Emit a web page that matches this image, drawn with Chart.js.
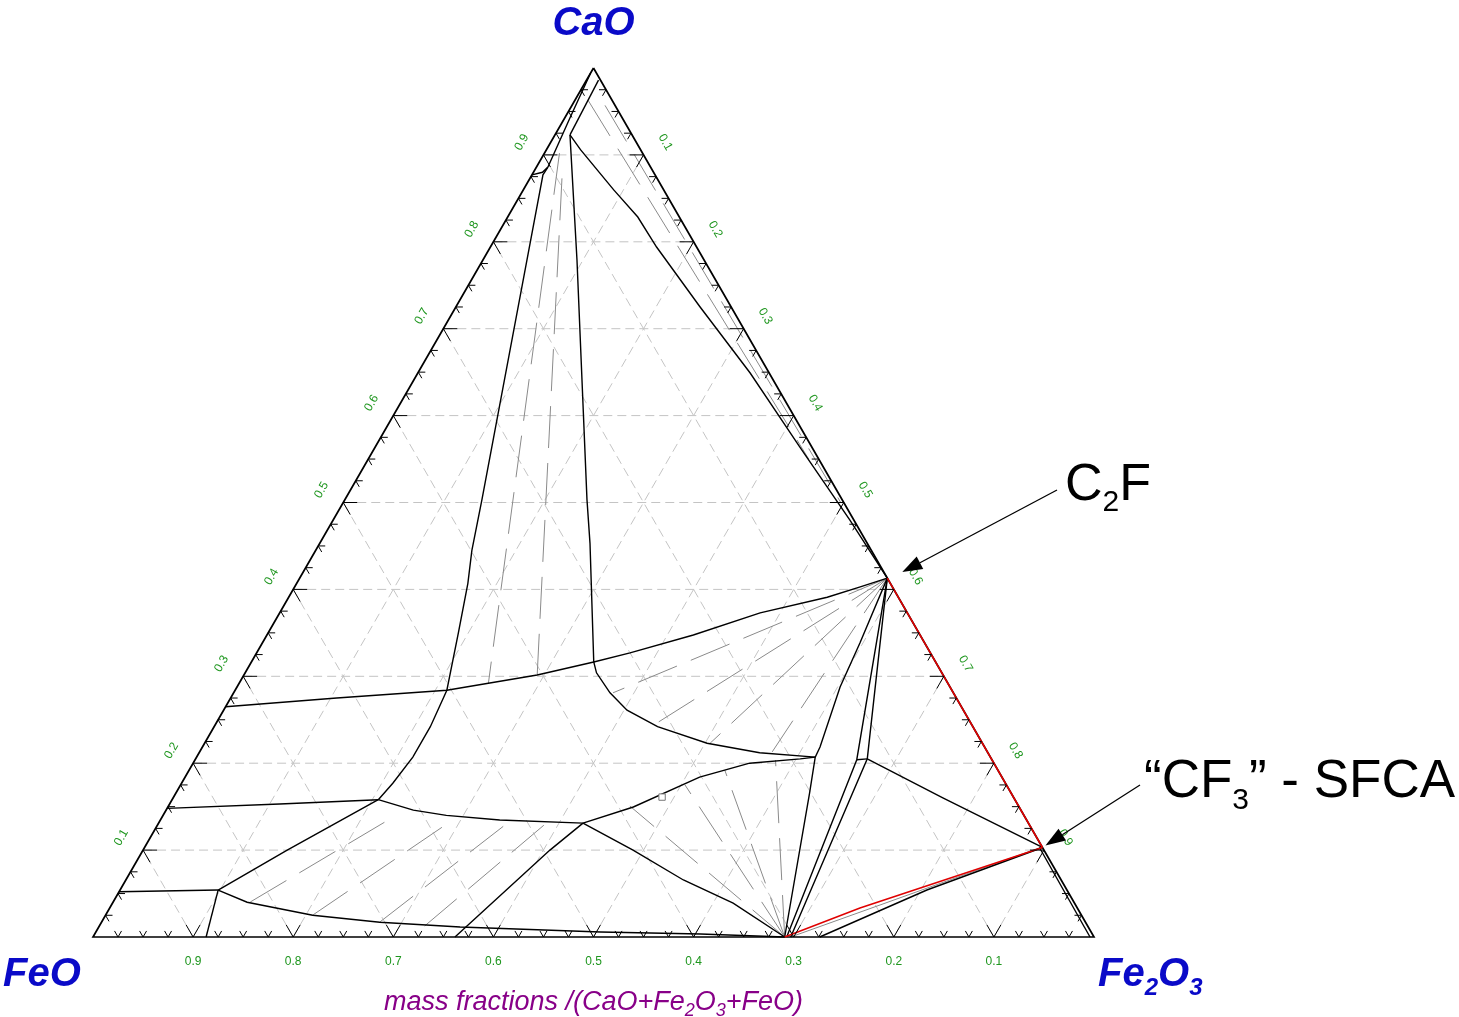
<!DOCTYPE html>
<html><head><meta charset="utf-8">
<script src="https://cdn.jsdelivr.net/npm/chart.js@4/dist/chart.umd.min.js"></script>
<style>html,body{margin:0;padding:0;background:#fff;}#wrap{width:1459px;height:1017px;position:relative;}</style>
</head><body><div id="wrap"><canvas id="c"></canvas></div>
<script>
// All points are compositions [CaO, Fe2O3] in mass fractions (FeO = 1 - CaO - Fe2O3)
const C2F = [0.413, 0.587];
const CF3 = [0.103, 0.897];
const MAG = [0, 0.691];

const gridValues = [0.1,0.2,0.3,0.4,0.5,0.6,0.7,0.8,0.9];
const tickStep = 0.025;
const leftLabels = ['0.1','0.2','0.3','0.4','0.5','0.6','0.7','0.8','0.9'];   // CaO
const rightLabels = ['0.1','0.2','0.3','0.4','0.5','0.6','0.7','0.8','0.9'];  // Fe2O3
const bottomLabels = ['0.9','0.8','0.7','0.6','0.5','0.4','0.3','0.2','0.1']; // FeO

// phase boundaries
const lineBtop = [[0.986,0.012],[0.923,0.015]];
const lineB = [[0.923,0.015],[0.779,0.094],[0.503,0.242],[0.453,0.270],[0.3165,0.342],[0.304,0.351],[0.281,0.376],[0.261,0.403],[0.242,0.443],[0.223,0.502],[0.212,0.560],[0.207,0.618]];
const lineUpperRight = [[0.923,0.015],[0.906,0.034],[0.860,0.090],[0.8285,0.130],[0.794,0.166],[0.725,0.244],[0.649,0.332],[0.564,0.424],[0.480,0.516],[0.413,0.587]];
const lineD = [[0.265,0.0],[0.275,0.106],[0.284,0.2115],[0.3015,0.293],[0.3165,0.342],[0.327,0.373],[0.3475,0.426],[0.373,0.480],[0.391,0.538],[0.403,0.565],[0.413,0.587]];
const lineE = [[0.886,0.0115],[0.877,0.011],[0.779,0.044],[0.503,0.137],[0.445,0.156],[0.407,0.171],[0.350,0.190],[0.284,0.2115],[0.242,0.216],[0.207,0.216],[0.177,0.211],[0.158,0.206]];
const lineHook = [[0.877,0.0],[0.880,0.009],[0.886,0.0115]];
const lineEdgeHug = [[0.886,0.0115],[0.944,0.005],[0.994,0.0]];
const lineC = [[0.131,0.424],[0.1496,0.465],[0.184,0.514],[0.200,0.556],[0.205,0.604],[0.207,0.618]];
const lineN = [[0,0.691],[0.1657,0.633],[0.207,0.618],[0.2186,0.617],[0.2877,0.6025],[0.3383,0.597],[0.413,0.587]];
const lineN2 = [[0.413,0.587],[0.204,0.661],[0,0.693]];
const lineN3 = [[0.413,0.587],[0.205,0.671],[0,0.697]];
const lineJoin = [[0.204,0.661],[0.205,0.671]];
const lineToCF3a = [[0.205,0.671],[0.160,0.769],[0.103,0.897]];
const lineToCF3b = [[0,0.726],[0.0541,0.806],[0.103,0.897]];
const lineGrayBase = [[0,0.697],[0.103,0.895]];
const lineInnerEdge = [[0.103,0.894],[0,0.996]];
const lineRedBase = [[0,0.691],[0.0334,0.7495],[0.103,0.897]];
const lineRedEdge = [[0.413,0.587],[0.103,0.897]];
const lineF = [[0.148,0],[0.153,0.110],[0.158,0.206]];
const lineG = [[0.158,0.206],[0.146,0.247],[0.140,0.283],[0.1346,0.339],[0.131,0.424]];
const lineH = [[0.158,0.206],[0.129,0.175],[0.100,0.144],[0.054,0.098]];
const lineI = [[0.052,0],[0.054,0.098]];
const lineJ = [[0.054,0.098],[0,0.113]];
const lineK = [[0.054,0.098],[0.040,0.134],[0.025,0.207],[0.017,0.278],[0.0115,0.361],[0.0058,0.504],[0.0035,0.605],[0,0.691]];
const lineL = [[0.131,0.424],[0.100,0.4065],[0.0656,0.391],[0,0.3616]];
const lineM = [[0.131,0.424],[0.100,0.4895],[0.0656,0.557],[0.039,0.620],[0,0.691]];

// tie lines
const tiesTop = [[[0.902,0.015],[0.292,0.249]],[[0.873,0.032],[0.3015,0.293]]];
const tiesCaOSide = [[[0.963,0.013],[0.55,0.440]],[[0.957,0.033],[0.50,0.497]]];
const tiesC2F = [[C2F,[0.281,0.379]],[C2F,[0.246,0.440]],[C2F,[0.223,0.505]],[C2F,[0.213,0.572]]];
const tiesMag = [[MAG,[0.1507,0.461]],[MAG,[0.1749,0.504]],[MAG,[0.1922,0.535]],[MAG,[0.2037,0.580]]];
const tiesLow = [[[0.0403,0.137],[0.1381,0.231]],[[0.0253,0.207],[0.1346,0.292]],[[0.0173,0.278],[0.1335,0.350]],[[0.0127,0.325],[0.1323,0.388]]];
const markers = [[0.161,0.488]];

const toXY = p => ({x: p[1] + p[0]/2, y: p[0]});
function ds(pts, color, width, dash, order){
  return {data: pts.map(toXY), showLine:true, borderColor:color, borderWidth:width, borderDash:dash||[],
    pointRadius:0, pointHoverRadius:0, fill:false, tension:0, clip:false, order:order};
}
const datasets = [];
gridValues.forEach(v=>{
  datasets.push(ds([[v,0],[v,1-v]],'#c4c4c4',1,[9,5],100));
  datasets.push(ds([[0,v],[1-v,v]],'#c4c4c4',1,[9,5],100));
  datasets.push(ds([[0,1-v],[1-v,0]],'#c4c4c4',1,[9,5],100));
});
[tiesTop,tiesCaOSide,tiesC2F,tiesMag,tiesLow].forEach(g=>g.forEach(t=>datasets.push(ds(t,'#8a8a8a',1,[42,15],50))));
datasets.push(ds(lineGrayBase,'#8a8a8a',1,[],40));
[lineBtop,lineB,lineUpperRight,lineD,lineE,lineHook,lineEdgeHug,lineC,lineN,lineN2,lineN3,lineJoin,lineToCF3a,lineToCF3b,lineInnerEdge,lineF,lineG,lineH,lineI,lineJ,lineK,lineL,lineM]
  .forEach(l=>datasets.push(ds(l,'#000',1.4,[],10)));
datasets.push(ds([[1,0],[0,0],[0,1],[1,0]],'#000',1.7,[],6));
datasets.push(ds(lineRedBase,'#e00000',1.5,[],5));
datasets.push(ds(lineRedEdge,'#e00000',1.6,[],4));
datasets.push({data: markers.map(toXY), showLine:false, pointStyle:'rect', pointRadius:4.5, borderColor:'#777', backgroundColor:'#fff', borderWidth:1, clip:false, order:3});

const FONT = '"Liberation Sans", Arial, sans-serif';
function rich(ctx, parts, x, y, align, size, subSize, style, color){
  ctx.fillStyle = color; ctx.textBaseline='alphabetic'; ctx.textAlign='left';
  let w=0;
  parts.forEach(p=>{ctx.font = style+' '+(p.s?subSize:size)+'px '+FONT; p.w=ctx.measureText(p.t).width; w+=p.w;});
  let cx = align==='center'? x-w/2 : x;
  parts.forEach(p=>{ctx.font = style+' '+(p.s?subSize:size)+'px '+FONT; ctx.fillText(p.t,cx,y+(p.s?Math.round(size*0.22):0)); cx+=p.w;});
}
function arrow(ctx,x1,y1,x2,y2){
  ctx.strokeStyle='#000'; ctx.fillStyle='#000'; ctx.lineWidth=1.3;
  const a=Math.atan2(y2-y1,x2-x1), L=20, W=7;
  const bx=x2-L*Math.cos(a), by=y2-L*Math.sin(a);
  ctx.beginPath(); ctx.moveTo(x1,y1); ctx.lineTo(bx,by); ctx.stroke();
  ctx.beginPath(); ctx.moveTo(x2,y2);
  ctx.lineTo(bx+W*Math.sin(a),by-W*Math.cos(a)); ctx.lineTo(bx-W*Math.sin(a),by+W*Math.cos(a)); ctx.closePath(); ctx.fill();
}
const deco = {
  id:'deco',
  afterDatasetsDraw(chart){
    const {ctx, scales:{x,y}} = chart;
    const P=(c,f)=>[x.getPixelForValue(f+c/2), y.getPixelForValue(c)];
    ctx.save();
    ctx.strokeStyle='#000'; ctx.lineWidth=1;
    const seg=(a,b,c,d)=>{ctx.beginPath();ctx.moveTo(a,b);ctx.lineTo(c,d);ctx.stroke();};
    const n=Math.round(1/tickStep);
    for(let i=1;i<n;i++){
      const v=i*tickStep, major=(i%4===0), L=major?14:7;
      let [px,py]=P(0,v); seg(px,py,px-0.5*L,py-0.866*L); seg(px,py,px+0.5*L,py-0.866*L);
      [px,py]=P(v,0); seg(px,py,px+L,py); seg(px,py,px+0.5*L,py+0.866*L);
      [px,py]=P(v,1-v); seg(px,py,px-L,py); seg(px,py,px-0.5*L,py+0.866*L);
    }
    // tick labels
    ctx.fillStyle='#1e961e'; ctx.font='12px '+FONT; ctx.textAlign='center'; ctx.textBaseline='middle';
    gridValues.forEach((v,i)=>{
      let [px,py]=P(v,0);
      ctx.save(); ctx.translate(px-0.866*25, py-0.5*25); ctx.rotate(-Math.PI/3); ctx.fillText(leftLabels[i],0,0); ctx.restore();
      [px,py]=P(1-v,v);
      ctx.save(); ctx.translate(px+0.866*25, py-0.5*25); ctx.rotate(Math.PI/3); ctx.fillText(rightLabels[i],0,0); ctx.restore();
      [px,py]=P(0,v);
      ctx.fillText(bottomLabels[i], px, py+25);
    });
    // vertex labels
    const blue='#0a0ac8';
    let [ax,ay]=P(1,0);
    rich(ctx,[{t:'CaO'}],ax,ay-33,'center',40,24,'italic bold',blue);
    let [lx,ly]=P(0,0);
    rich(ctx,[{t:'FeO'}],lx-51,ly+49,'center',40,24,'italic bold',blue);
    let [rx,ry]=P(0,1);
    rich(ctx,[{t:'Fe'},{t:'2',s:1},{t:'O'},{t:'3',s:1}],rx+4,ry+49,'left',40,24,'italic bold',blue);
    // axis title
    rich(ctx,[{t:'mass fractions /(CaO+Fe'},{t:'2',s:1},{t:'O'},{t:'3',s:1},{t:'+FeO)'}],ax,ly+73,'center',27,18,'italic','#880088');
    // annotations
    rich(ctx,[{t:'C'},{t:'2',s:1},{t:'F'}],1065,500,'left',52,30,'',  '#000');
    rich(ctx,[{t:'\u201CCF'},{t:'3',s:1},{t:'\u201D - SFCA'}],1144,797,'left',53,30,'','#000');
    const [cx1,cy1]=P(C2F[0],C2F[1]);
    arrow(ctx,1057,490,cx1+15,cy1-6);
    const [cx2,cy2]=P(CF3[0],CF3[1]);
    arrow(ctx,1140,785,cx2+3,cy2-2);
    ctx.restore();
  }
};
new Chart(document.getElementById('c'),{
  type:'scatter',
  data:{datasets},
  options:{
    responsive:true, maintainAspectRatio:false, animation:false,
    layout:{padding:{left:93,right:365,top:68,bottom:80}},
    scales:{x:{type:'linear',min:0,max:1,display:false},y:{type:'linear',min:0,max:1,display:false}},
    plugins:{legend:{display:false},tooltip:{enabled:false}},
    events:[]
  },
  plugins:[deco]
});
</script></body></html>
